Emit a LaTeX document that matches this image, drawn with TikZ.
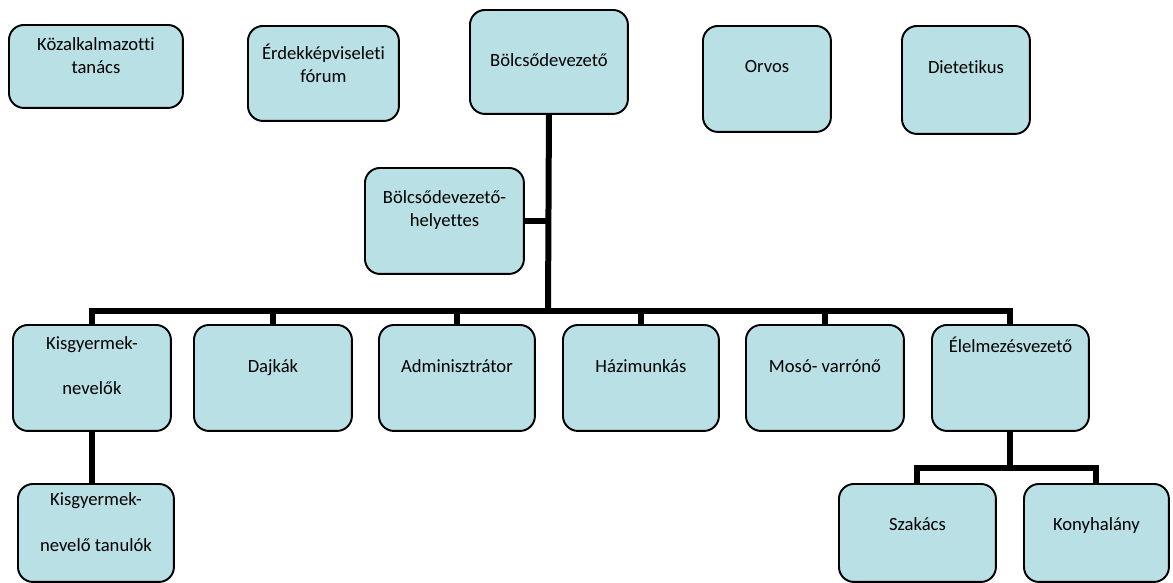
\documentclass[tikz,border=0pt]{standalone}
\usepackage{fontspec}
\setmainfont{Carlito}[Ligatures=NoCommon]
\usetikzlibrary{positioning}
\definecolor{boxfill}{RGB}{185,224,228}
\tikzset{
  unit/.style={draw,rounded corners=0.3cm,line width=1.1pt,fill=boxfill,anchor=north west,inner sep=0pt},
  caption/.style={anchor=north,inner sep=0pt,align=center,font=\fontsize{10.6}{13}\selectfont},
  link/.style={line width=0.12cm}
}
\begin{document}
\begin{tikzpicture}[x=0.02cm,y=-0.02cm]
\useasboundingbox (0,0) rectangle (1173,582);
% top row
\node [unit,minimum width=3.48cm,minimum height=1.66cm] (kozal) at (8,24) {};
\node [unit,minimum width=3.02cm,minimum height=1.9cm] (erdek) at (247,25) {};
\node [unit,minimum width=3.16cm,minimum height=2.08cm] (vezeto) at (469,9) {};
\node [unit,minimum width=2.56cm,minimum height=2.12cm] (orvos) at (702,25) {};
\node [unit,minimum width=2.56cm,minimum height=2.16cm] (diet) at (901,25) {};
\node [unit,minimum width=3.18cm,minimum height=2.12cm] (helyettes) at (364,167) {};
% staff row
\node [unit,minimum width=3.16cm,minimum height=2.12cm] (nevelok) at (12,324) {};
\node [unit,minimum width=3.16cm,minimum height=2.12cm] (dajkak) at (193,324) {};
\node [unit,minimum width=3.12cm,minimum height=2.12cm] (admin) at (378,324) {};
\node [unit,minimum width=3.12cm,minimum height=2.12cm] (hazi) at (562,324) {};
\node [unit,minimum width=3.16cm,minimum height=2.12cm] (moso) at (745,324) {};
\node [unit,minimum width=3.14cm,minimum height=2.12cm] (elelmezes) at (931,324) {};
% bottom row
\node [unit,minimum width=3.12cm,minimum height=1.96cm] (tanulok) at (17,483) {};
\node [unit,minimum width=3.14cm,minimum height=1.96cm] (szakacs) at (838,483) {};
\node [unit,minimum width=2.9cm,minimum height=1.96cm] (konyha) at (1023,483) {};
% texts
\node [caption] (kozal-t) at ([yshift=-0.27cm]kozal.north) {Közalkalmazotti\\tanács};
\node [caption] (erdek-t) at ([yshift=-0.37cm]erdek.north) {Érdekképviseleti\\fórum};
\node [caption] (vezeto-t) at ([yshift=-0.89cm]vezeto.north) {Bölcsődevezető};
\node [caption] (orvos-t) at ([yshift=-0.71cm]orvos.north) {Orvos};
\node [caption] (diet-t) at ([yshift=-0.71cm]diet.north) {Dietetikus};
\node [caption] (helyettes-t) at ([yshift=-0.47cm]helyettes.north) {Bölcsődevezető-\\helyettes};
\node [caption] (nevelok-t) at ([yshift=-0.25cm]nevelok.north) {Kisgyermek-\\[12.5pt]nevelők};
\node [caption] (dajkak-t) at ([yshift=-0.71cm]dajkak.north) {Dajkák};
\node [caption] (admin-t) at ([yshift=-0.71cm]admin.north) {Adminisztrátor};
\node [caption] (hazi-t) at ([yshift=-0.71cm]hazi.north) {Házimunkás};
\node [caption] (moso-t) at ([yshift=-0.71cm]moso.north) {Mosó- varrónő};
\node [caption] (elelmezes-t) at ([yshift=-0.25cm]elelmezes.north) {Élelmezésvezető};
\node [caption] (tanulok-t) at ([yshift=-0.19cm]tanulok.north) {Kisgyermek-\\[13pt]nevelő tanulók};
\node [caption] (szakacs-t) at ([yshift=-0.69cm]szakacs.north) {Szakács};
\node [caption] (konyha-t) at ([yshift=-0.69cm]konyha.north) {Konyhalány};
% connectors
\coordinate (bus) at (548,311);
\coordinate (bus2) at (1009,468);
\draw [link] (vezeto.south) -- (bus);
\draw [link] (helyettes.east) -- (helyettes.east -| bus);
\draw [link] (nevelok.north) -- (nevelok.north |- bus) -- (elelmezes.north |- bus) -- (elelmezes.north);
\foreach \n in {dajkak,admin,hazi,moso}
  \draw [link] (\n.north) -- (\n.north |- bus);
\draw [link] (nevelok.south) -- (nevelok.south |- tanulok.north);
\draw [link] (elelmezes.south) -- (elelmezes.south |- bus2);
\draw [link] (szakacs.north) -- (szakacs.north |- bus2) -- (konyha.north |- bus2) -- (konyha.north);
\end{tikzpicture}
\end{document}
